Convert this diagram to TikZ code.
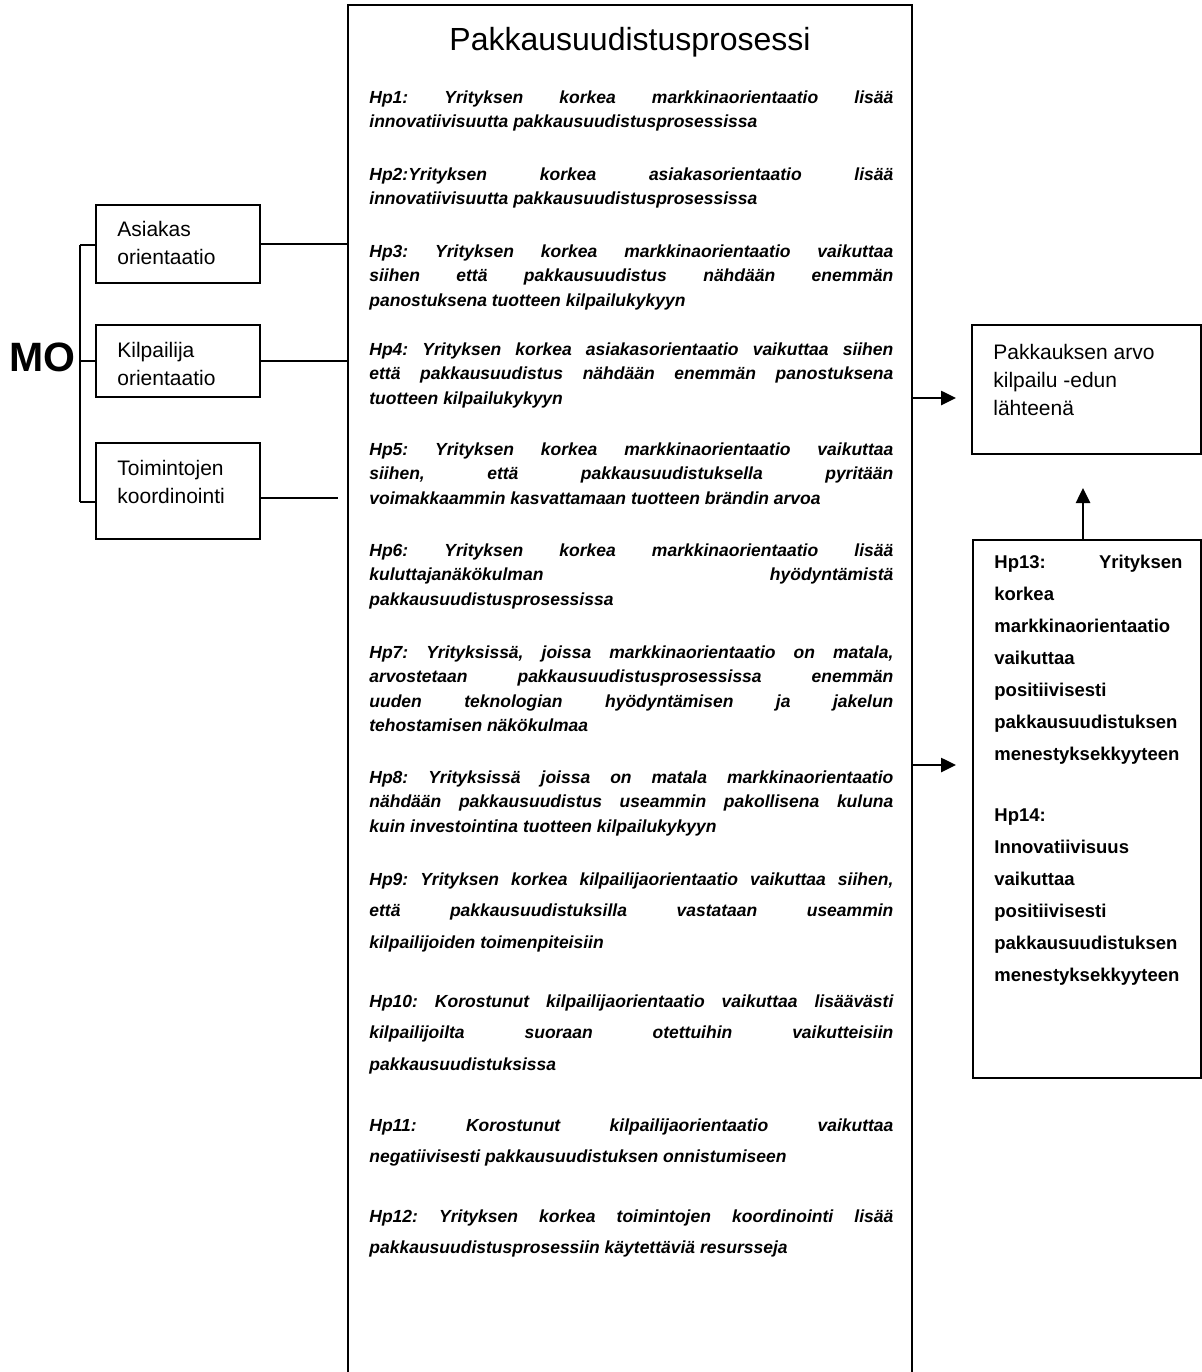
\documentclass[tikz,border=0pt]{standalone}
\usepackage{fontspec}
\setmainfont{Liberation Sans}
\usetikzlibrary{arrows.meta}

% fonts
\newcommand\hpfont{\fontsize{8.75pt}{12.25pt}\selectfont\bfseries\itshape}
\newcommand\hpwfont{\fontsize{8.75pt}{15.75pt}\selectfont\bfseries\itshape}
\newcommand\lblfont{\fontsize{10.5pt}{14pt}\selectfont}
\newcommand\hprfont{\fontsize{9.25pt}{16pt}\selectfont\bfseries}
% a justified line of given width, and a strut fixing the first line's height
% (natural, stretchable word spaces instead of the fixed ragged ones)
\newcommand\jl[2][262pt]{\makebox[#1][s]{\spaceskip=0pt\xspaceskip=0pt\frenchspacing #2}}
\newcommand\fr[1][9pt]{\spaceskip=0pt\xspaceskip=0pt\frenchspacing\rule{0pt}{#1}}

\begin{document}
\begin{tikzpicture}[x=0.5pt,y=-0.5pt,
  box/.style={draw, line width=1.1pt, inner sep=0pt},
  hp/.style={anchor=north west, inner sep=0pt, text width=262pt, align=left, font=\hpfont},
  hpw/.style={hp, font=\hpwfont},
  lbl/.style={anchor=north west, inner sep=0pt, align=left, font=\lblfont},
  hpr/.style={anchor=north west, inner sep=0pt, text width=94pt, align=left, font=\hprfont},
  link/.style={line width=1.1pt},
  arr/.style={line width=1.3pt, -{Triangle[length=7.5pt,width=7pt]}}]
\clip (0,0) rectangle (1202,1372);

% boxes
\node[box, minimum width=282pt, minimum height=694pt] (main) at (630,699) {};
\node[box, minimum width=82pt, minimum height=39pt] (asiakas) at (178,244) {};
\node[box, minimum width=82pt, minimum height=36pt] (kilp) at (178,361) {};
\node[box, minimum width=82pt, minimum height=48pt] (toim) at (178,491) {};
\node[box, minimum width=114.5pt, minimum height=64.5pt] (arvo) at (1086.5,389.5) {};
\node[box, minimum width=114pt, minimum height=269pt] (hpbox) at (1087,809) {};

% left side labels
\node[anchor=base west, inner sep=0pt, font=\fontsize{20.5pt}{23pt}\selectfont\bfseries] (mo) at (9,371) {MO};
\node[lbl] (tasiakas) at (117,216) {\fr[10pt]Asiakas\\orientaatio};
\node[lbl] (tkilp) at (117,337) {\fr[10pt]Kilpailija\\orientaatio};
\node[lbl] (ttoim) at (117,455) {\fr[10pt]Toimintojen\\koordinointi};
\node[lbl] (tarvo) at (993,339) {\fr[10pt]Pakkauksen arvo\\kilpailu -edun\\lähteenä};

% title
\node[anchor=base, inner sep=0pt, font=\fontsize{16pt}{19pt}\selectfont] (title) at (630,50) {Pakkausuudistusprosessi};

% hypotheses
\node[hp] (hp1) at (369,85) {\fr\jl{Hp1: Yrityksen korkea markkinaorientaatio lisää}\\innovatiivisuutta pakkausuudistusprosessissa};
\node[hp] (hp2) at (369,162) {\fr\jl{Hp2:Yrityksen korkea asiakasorientaatio lisää}\\innovatiivisuutta pakkausuudistusprosessissa};
\node[hp] (hp3) at (369,239) {\fr\jl{Hp3: Yrityksen korkea markkinaorientaatio vaikuttaa}\\\jl{siihen että pakkausuudistus nähdään enemmän}\\panostuksena tuotteen kilpailukykyyn};
\node[hp] (hp4) at (369,337) {\fr\jl{Hp4: Yrityksen korkea asiakasorientaatio vaikuttaa siihen}\\\jl{että pakkausuudistus nähdään enemmän panostuksena}\\tuotteen kilpailukykyyn};
\node[hp] (hp5) at (369,437) {\fr\jl{Hp5: Yrityksen korkea markkinaorientaatio vaikuttaa}\\\jl{siihen, että pakkausuudistuksella pyritään}\\voimakkaammin kasvattamaan tuotteen brändin arvoa};
\node[hp] (hp6) at (369,538) {\fr\jl{Hp6: Yrityksen korkea markkinaorientaatio lisää}\\\jl{kuluttajanäkökulman hyödyntämistä}\\pakkausuudistusprosessissa};
\node[hp] (hp7) at (369,640) {\fr\jl{Hp7: Yrityksissä, joissa markkinaorientaatio on matala,}\\\jl{arvostetaan pakkausuudistusprosessissa enemmän}\\\jl{uuden teknologian hyödyntämisen ja jakelun}\\tehostamisen näkökulmaa};
\node[hp] (hp8) at (369,765) {\fr\jl{Hp8: Yrityksissä joissa on matala markkinaorientaatio}\\\jl{nähdään pakkausuudistus useammin pakollisena kuluna}\\kuin investointina tuotteen kilpailukykyyn};
\node[hpw] (hp9) at (369,867) {\fr\jl{Hp9: Yrityksen korkea kilpailijaorientaatio vaikuttaa siihen,}\\\jl{että pakkausuudistuksilla vastataan useammin}\\kilpailijoiden toimenpiteisiin};
\node[hpw] (hp10) at (369,989) {\fr\jl{Hp10: Korostunut kilpailijaorientaatio vaikuttaa lisäävästi}\\\jl{kilpailijoilta suoraan otettuihin vaikutteisiin}\\pakkausuudistuksissa};
\node[hpw] (hp11) at (369,1113) {\fr\jl{Hp11: Korostunut kilpailijaorientaatio vaikuttaa}\\negatiivisesti pakkausuudistuksen onnistumiseen};
\node[hpw] (hp12) at (369,1204) {\fr\jl{Hp12: Yrityksen korkea toimintojen koordinointi lisää}\\pakkausuudistusprosessiin käytettäviä resursseja};

% outcome hypotheses
\node[hpr] (hp13) at (994,549) {\fr[9.5pt]\jl[94pt]{Hp13: Yrityksen}\\korkea\\markkinaorientaatio\\vaikuttaa\\positiivisesti\\pakkausuudistuksen\\menestyksekkyyteen};
\node[hpr] (hp14) at (994,802) {\fr[9.5pt]Hp14:\\Innovatiivisuus\\vaikuttaa\\positiivisesti\\pakkausuudistuksen\\menestyksekkyyteen};

% bracket joining the three MO components
\coordinate (bt) at (80,245);
\coordinate (bb) at (80,502);
\draw[link] (bt) -- (bb);
\draw[link] (bt) -- (bt -| asiakas.west);
\draw[link] (kilp.west -| bt) -- (kilp.west);
\draw[link] (bb) -- (bb -| toim.west);

% components feeding the process
\draw[link] (asiakas.east) -- (asiakas.east -| main.west);
\draw[link] (kilp.east) -- (kilp.east -| main.west);
\coordinate (te) at (338,498);
\draw[link] (te -| toim.east) -- (te);

% arrows to the outcome
\coordinate (a1) at (956,398);
\coordinate (a2) at (956,765);
\coordinate (a3) at (1083,488);
\draw[arr] (a1 -| main.east) -- (a1);
\draw[arr] (a2 -| main.east) -- (a2);
\draw[arr] (a3 |- hpbox.north) -- (a3);
\end{tikzpicture}
\end{document}
